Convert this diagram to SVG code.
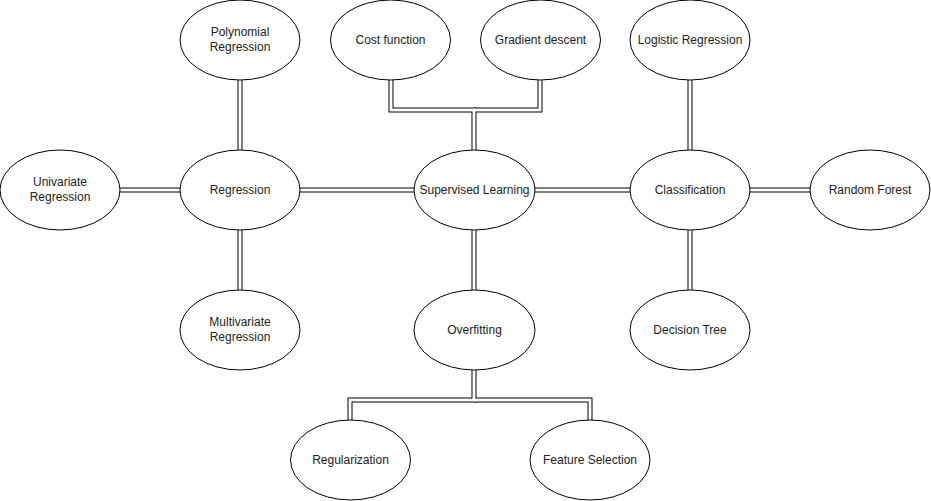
<svg xmlns="http://www.w3.org/2000/svg" width="931" height="501" viewBox="0 0 931 501">
<style>
.n ellipse{fill:#fff;stroke:#000;stroke-width:1}
.n text{font-family:"Liberation Sans",Arial,Helvetica,sans-serif;font-size:12px;fill:#222;text-anchor:middle}
.outer{fill:none;stroke:#000;stroke-width:5;stroke-linejoin:miter}
.inner{fill:none;stroke:#fff;stroke-width:3;stroke-linejoin:miter}
</style>
<rect width="931" height="501" fill="#fff"/>
<g id="connectors">
<g>
<polyline class="outer" points="391,80 391,110 474,110 474,150"/>
<polyline class="outer" points="540,80 540,110 474,110"/>
<polyline class="outer" points="474,370 474,400 350,400 350,420"/>
<polyline class="outer" points="474,400 590,400 590,420"/>
<line class="outer" x1="474" y1="230" x2="474" y2="290"/>
<line class="outer" x1="300" y1="190" x2="414" y2="190"/>
<line class="outer" x1="535" y1="190" x2="630" y2="190"/>
<line class="outer" x1="120" y1="190" x2="180" y2="190"/>
<line class="outer" x1="750" y1="190" x2="810" y2="190"/>
<line class="outer" x1="240" y1="80" x2="240" y2="150"/>
<line class="outer" x1="240" y1="230" x2="240" y2="290"/>
<line class="outer" x1="690" y1="80" x2="690" y2="150"/>
<line class="outer" x1="690" y1="230" x2="690" y2="290"/>
</g>
<g>
<polyline class="inner" points="391,79 391,110 474,110 474,151"/>
<polyline class="inner" points="540,79 540,110 474,110"/>
<polyline class="inner" points="474,369 474,400 350,400 350,421"/>
<polyline class="inner" points="474,400 590,400 590,421"/>
<line class="inner" x1="474" y1="229" x2="474" y2="291"/>
<line class="inner" x1="299" y1="190" x2="415" y2="190"/>
<line class="inner" x1="534" y1="190" x2="631" y2="190"/>
<line class="inner" x1="119" y1="190" x2="181" y2="190"/>
<line class="inner" x1="749" y1="190" x2="811" y2="190"/>
<line class="inner" x1="240" y1="79" x2="240" y2="151"/>
<line class="inner" x1="240" y1="229" x2="240" y2="291"/>
<line class="inner" x1="690" y1="79" x2="690" y2="151"/>
<line class="inner" x1="690" y1="229" x2="690" y2="291"/>
</g>
</g>
<g id="polynomial" class="n"><ellipse cx="240" cy="40" rx="60" ry="40"/><text x="240" y="36">Polynomial</text><text x="240" y="51">Regression</text></g>
<g id="cost" class="n"><ellipse cx="390.5" cy="40" rx="60" ry="40"/><text x="390.5" y="44">Cost function</text></g>
<g id="gradient" class="n"><ellipse cx="540.5" cy="40" rx="60" ry="40"/><text x="540.5" y="44">Gradient descent</text></g>
<g id="logistic" class="n"><ellipse cx="690" cy="40" rx="60" ry="40"/><text x="690" y="44">Logistic Regression</text></g>
<g id="univariate" class="n"><ellipse cx="60" cy="190" rx="60" ry="40"/><text x="60" y="186">Univariate</text><text x="60" y="201">Regression</text></g>
<g id="regression" class="n"><ellipse cx="240" cy="190" rx="60" ry="40"/><text x="240" y="194">Regression</text></g>
<g id="supervised" class="n"><ellipse cx="474.5" cy="190" rx="60.5" ry="40"/><text x="474.5" y="194">Supervised Learning</text></g>
<g id="classification" class="n"><ellipse cx="690" cy="190" rx="60" ry="40"/><text x="690" y="194">Classification</text></g>
<g id="randomforest" class="n"><ellipse cx="870" cy="190" rx="60" ry="40"/><text x="870" y="194">Random Forest</text></g>
<g id="multivariate" class="n"><ellipse cx="240" cy="330" rx="60" ry="40"/><text x="240" y="326">Multivariate</text><text x="240" y="341">Regression</text></g>
<g id="overfitting" class="n"><ellipse cx="474.5" cy="330" rx="60.5" ry="40"/><text x="474.5" y="334">Overfitting</text></g>
<g id="decisiontree" class="n"><ellipse cx="690" cy="330" rx="60" ry="40"/><text x="690" y="334">Decision Tree</text></g>
<g id="regularization" class="n"><ellipse cx="350.5" cy="460" rx="60" ry="40"/><text x="350.5" y="464">Regularization</text></g>
<g id="featureselection" class="n"><ellipse cx="590" cy="460" rx="60" ry="40"/><text x="590" y="464">Feature Selection</text></g>
</svg>
